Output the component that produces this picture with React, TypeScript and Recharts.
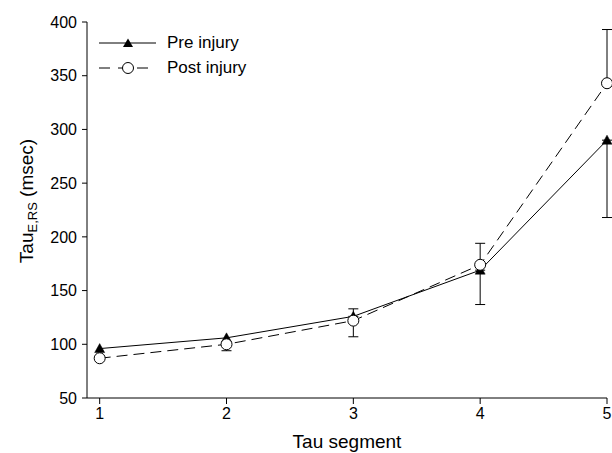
import React from "react";
import {
  LineChart,
  Line,
  XAxis,
  YAxis,
  ErrorBar,
  Legend,
} from "recharts";

const segments = [1, 2, 3, 4, 5];
const preInjury = [96, 106, 126, 169, 290];
const postInjury = [87, 100, 122, 174, 343];
// [below, above] error lengths, null = no bar drawn
const preError = [null, null, [0, 7], [32, 0], [72, 0]];
const postError = [null, [6, 0], [15, 0], [0, 20], [0, 50]];
const xTicks = [1, 2, 3, 4, 5];
const yTicks = [50, 100, 150, 200, 250, 300, 350, 400];

const data = segments.map((s, i) => ({
  segment: s,
  pre: preInjury[i],
  post: postInjury[i],
  preErr: preError[i],
  postErr: postError[i],
}));

const font = "'Liberation Sans', Arial, sans-serif";
const dash = "11 6";

const Triangle = (props: any) => {
  const { cx, cy, index } = props;
  if (cx == null || cy == null) return <g key={index} />;
  return (
    <path
      key={`tri-${index}`}
      d={`M${cx},${cy - 5} L${cx + 5},${cy + 4} L${cx - 5},${cy + 4} Z`}
      fill="#000"
      stroke="#000"
      strokeWidth={0.5}
    />
  );
};

const OpenCircle = (props: any) => {
  const { cx, cy, index } = props;
  if (cx == null || cy == null) return <g key={index} />;
  return (
    <circle
      key={`circ-${index}`}
      cx={cx}
      cy={cy}
      r={5.5}
      fill="#fff"
      stroke="#000"
      strokeWidth={1}
    />
  );
};

const renderLegend = () => (
  <div style={{ fontFamily: font, fontSize: 17, color: "#000" }}>
    <div style={{ display: "flex", alignItems: "center", height: 25 }}>
      <svg width={60} height={14}>
        <line x1={1} y1={7} x2={58} y2={7} stroke="#000" strokeWidth={1} />
        <path d="M30,2.5 L35,11 L25,11 Z" fill="#000" />
      </svg>
      <span style={{ marginLeft: 9 }}>Pre injury</span>
    </div>
    <div style={{ display: "flex", alignItems: "center", height: 25 }}>
      <svg width={60} height={14}>
        <line x1={1} y1={7} x2={58} y2={7} stroke="#000" strokeWidth={1} strokeDasharray="11 8" />
        <circle cx={30} cy={7} r={5.5} fill="#fff" stroke="#000" />
      </svg>
      <span style={{ marginLeft: 9 }}>Post injury</span>
    </div>
  </div>
);

const YLabel = () => {
  const cx = 33;
  const cy = 201;
  return (
    <text
      x={cx}
      y={cy}
      transform={`rotate(-90 ${cx} ${cy})`}
      textAnchor="middle"
      fontFamily={font}
      fontSize={19}
      fill="#000"
    >
      Tau
      <tspan fontSize={13} dy={4}>E,RS</tspan>
      <tspan dy={-4}> (msec)</tspan>
    </text>
  );
};

export default function App() {
  return (
    <div style={{ position: "absolute", left: 0, top: 0, background: "#fff" }}>
      <LineChart
        width={612}
        height={453}
        data={data}
        margin={{ top: 22, right: 5, bottom: 0, left: 0 }}
      >
        <XAxis
          dataKey="segment"
          type="number"
          domain={[0.9, 5]}
          ticks={xTicks}
          height={55}
          stroke="#000"
          tickSize={6}
          tickMargin={4}
          tick={{ fill: "#000", fontSize: 16, fontFamily: font }}
          label={{
            value: "Tau segment",
            position: "insideBottom",
            offset: 5,
            fill: "#000",
            fontSize: 19,
            fontFamily: font,
          }}
        />
        <YAxis
          type="number"
          domain={[50, 400]}
          ticks={yTicks}
          width={87}
          stroke="#000"
          tickSize={5}
          tickMargin={5}
          tick={{ fill: "#000", fontSize: 16, fontFamily: font }}
          label={<YLabel />}
        />
        <Legend
          content={renderLegend}
          layout="vertical"
          verticalAlign="middle"
          align="center"
          wrapperStyle={{ position: "absolute", left: 98, top: 30, width: 200 }}
        />
        <Line
          dataKey="pre"
          stroke="#000"
          strokeWidth={1}
          dot={Triangle}
          activeDot={false}
          isAnimationActive={false}
        >
          <ErrorBar dataKey="preErr" direction="y" width={5} stroke="#000" strokeWidth={1} />
        </Line>
        <Line
          dataKey="post"
          stroke="#000"
          strokeWidth={1}
          strokeDasharray={dash}
          dot={OpenCircle}
          activeDot={false}
          isAnimationActive={false}
        >
          <ErrorBar dataKey="postErr" direction="y" width={5} stroke="#000" strokeWidth={1} />
        </Line>
      </LineChart>
    </div>
  );
}
